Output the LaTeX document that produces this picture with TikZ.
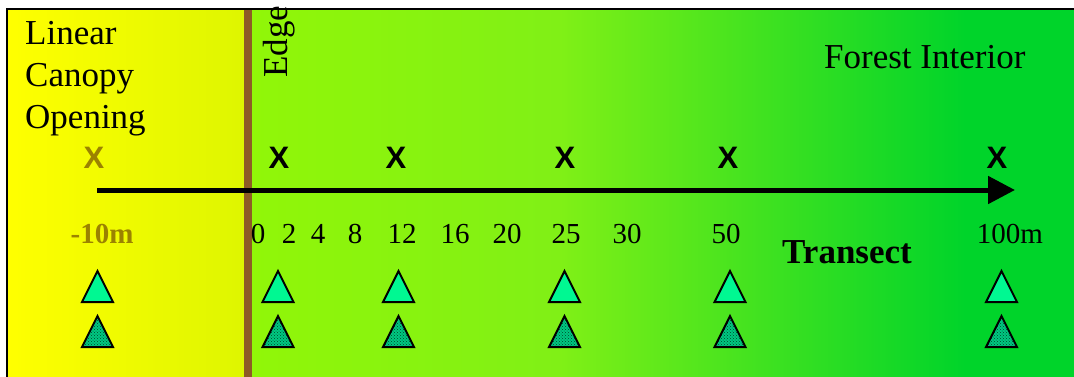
\documentclass[tikz,border=0pt]{standalone}
\usepackage{fontspec}
\setmainfont{Liberation Serif}
\newfontfamily\xmarkfont{Liberation Sans}
\usetikzlibrary{arrows.meta,patterns}
\definecolor{yelL}{RGB}{255,255,0}
\definecolor{yelR}{RGB}{222,246,0}
\definecolor{grnA}{RGB}{145,246,8}
\definecolor{grnB}{RGB}{128,240,22}
\definecolor{grnC}{RGB}{0,212,42}
\definecolor{barbrown}{RGB}{141,91,38}
\definecolor{oliveT}{RGB}{155,130,0}
\definecolor{triLight}{RGB}{0,248,146}
\definecolor{triTeal}{RGB}{0,200,130}
\definecolor{triDark}{RGB}{0,70,40}
\tikzset{
  bigtext/.style={inner sep=0pt, font=\fontsize{35}{42}\selectfont},
  numlab/.style={inner sep=0pt, anchor=base, font=\fontsize{29}{29}\selectfont},
  xmark/.style={inner sep=0pt, font=\xmarkfont\bfseries\fontsize{31}{31}\selectfont},
  trilight/.style={draw=black, line width=2pt, line join=miter, fill=triLight},
  tridark/.style={draw=black, line width=2pt, line join=miter,
    preaction={fill=triTeal}, preaction={pattern=crosshatch dots, pattern color=triDark}},
}
\begin{document}
\begin{tikzpicture}[x=1pt,y=-1pt]
\useasboundingbox (0,0) rectangle (1074,376);
\fill[white] (0,0) rectangle (1074,376);
% backgrounds
\shade[left color=yelL, right color=yelR] (7,9) rectangle (245,377);
\shade[left color=grnA, right color=grnB] (252,9) rectangle (560,377);
\shade[left color=grnB, right color=grnC] (559.5,9) rectangle (965,377);
\fill[grnC] (964.5,9) rectangle (1075,377);
\fill[barbrown] (244,9) rectangle (252,377);
% border
\draw[line width=2.5pt] (7,377) -- (7,9) -- (1075,9);
% region labels
\node[bigtext, anchor=north west, align=left] (open) at (25,21) {Linear\\Canopy\\Opening};
\node[bigtext, anchor=base west, rotate=90] (edge) at (287,78) {Edge};
\node[bigtext, anchor=base west] (forest) at (824,68) {Forest Interior};
% transect arrow
\coordinate (aS) at (97,190);
\coordinate (aE) at (1015,190);
\draw[line width=5pt, -{Triangle[length=27pt,width=27pt]}] (aS) -- (aE);
% x marks
\node[xmark, text=oliveT] (xm0) at (94,157.5) {X};
\foreach \i/\xx in {1/279,2/396,3/565,4/728,5/997}
  \node[xmark] (xm\i) at (\xx,157.5) {X};
% distance labels
\node[numlab, font=\bfseries\fontsize{29}{29}\selectfont, text=oliveT] (dm10) at (102,243) {-10m};
\foreach \lab/\xx in {0/258,2/289,4/318,8/355,12/402,16/455,20/507,25/566,30/627,50/726}
  \node[numlab] (d\lab) at (\xx,243) {\lab};
\node[numlab] (d100) at (1010,243) {100m};
\node[inner sep=0pt, anchor=base west, font=\bfseries\fontsize{35}{35}\selectfont] (transect) at (782,263) {Transect};
% triangles
\foreach \xx in {97.5,278,398.5,564.5,730,1001.5}{
  \draw[trilight] (\xx-15.5,302) -- (\xx,271) -- (\xx+15.5,302) -- cycle;
  \draw[tridark] (\xx-15.5,347) -- (\xx,316) -- (\xx+15.5,347) -- cycle;
}
\end{tikzpicture}
\end{document}
